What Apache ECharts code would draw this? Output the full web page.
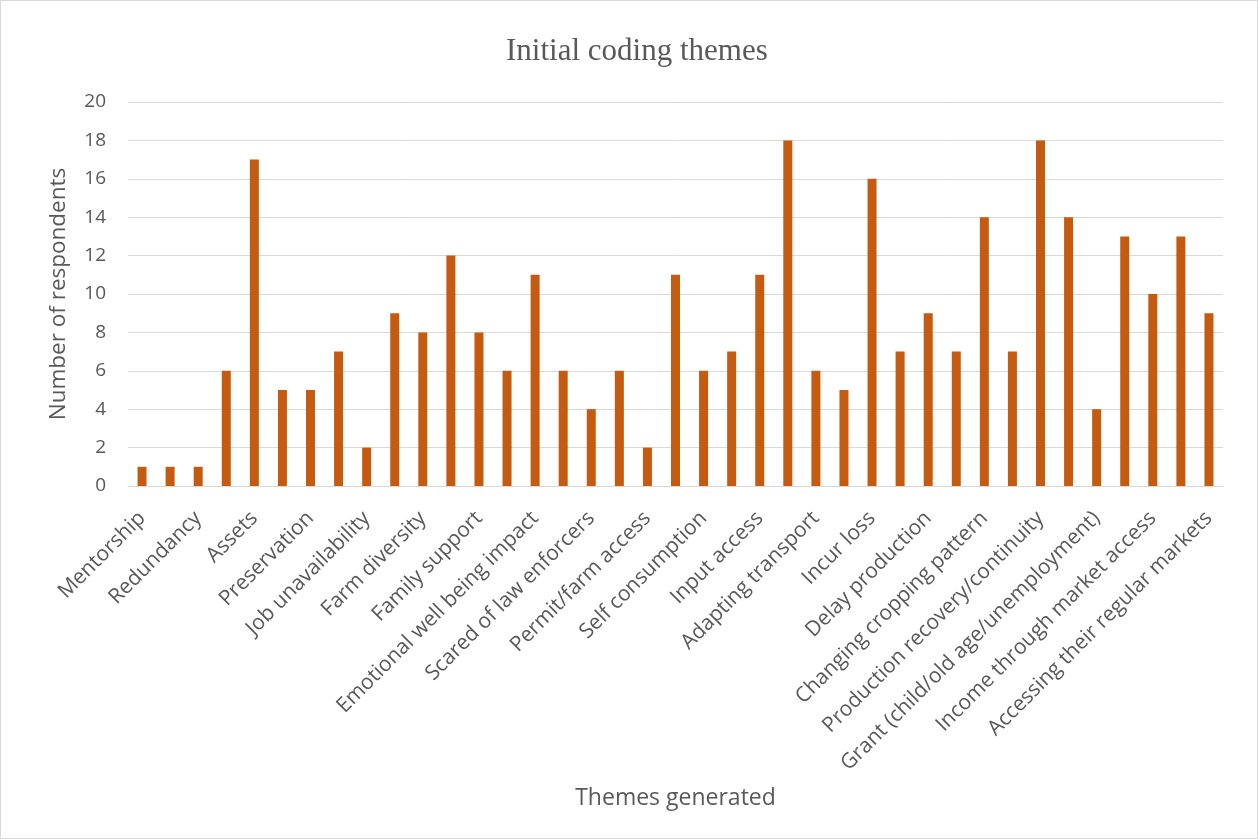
<!DOCTYPE html>
<html>
<head>
<meta charset="utf-8">
<title>Initial coding themes</title>
<script src="https://cdn.jsdelivr.net/npm/echarts@6/dist/echarts.min.js"></script>
<style>
  html, body { margin: 0; padding: 0; background: #fff; }
  #chart { width: 1258px; height: 839px; box-sizing: border-box; border: 1px solid #d9d9d9; }
</style>
</head>
<body>
<div id="chart"></div>
<script>
// only every second theme gets a label on the axis in the original
const themes = [
  'Mentorship', '', 'Redundancy', '', 'Assets', '', 'Preservation', '',
  'Job unavailability', '', 'Farm diversity', '', 'Family support', '',
  'Emotional well being impact', '', 'Scared of law enforcers', '',
  'Permit/farm access', '', 'Self consumption', '', 'Input access', '',
  'Adapting transport', '', 'Incur loss', '', 'Delay production', '',
  'Changing cropping pattern', '', 'Production recovery/continuity', '',
  'Grant (child/old age/unemployment)', '', 'Income through market access', '',
  'Accessing their regular markets'
];
const respondents = [
  1, 1, 1, 6, 17, 5, 5, 7, 2, 9, 8, 12, 8, 6, 11, 6, 4, 6, 2, 11,
  6, 7, 11, 18, 6, 5, 16, 7, 9, 7, 14, 7, 18, 14, 4, 13, 10, 13, 9
];
const yMin = 0, yMax = 20, yStep = 2;

const textGray = '#595959';
const chart = echarts.init(document.getElementById('chart'));
chart.setOption({
  animation: false,
  title: {
    text: 'Initial coding themes',
    left: 500,
    top: 30,
    textStyle: { fontFamily: 'Liberation Serif', fontWeight: 'normal', fontSize: 31, color: textGray }
  },
  grid: { left: 127, right: 34, top: 101, bottom: 352, containLabel: false },
  xAxis: {
    type: 'category',
    data: themes,
    name: 'Themes generated',
    nameLocation: 'middle',
    nameGap: 301,
    nameTextStyle: { fontFamily: 'Open Sans', fontSize: 23, color: textGray, verticalAlign: 'top' },
    axisLine: { lineStyle: { color: '#d9d9d9', width: 1 } },
    axisTick: { show: false },
    axisLabel: {
      interval: 1,
      rotate: 45,
      margin: 29,
      fontFamily: 'Open Sans',
      fontSize: 21,
      color: textGray
    }
  },
  yAxis: {
    type: 'value',
    min: yMin,
    max: yMax,
    interval: yStep,
    name: 'Number of respondents',
    nameLocation: 'middle',
    nameRotate: 90,
    nameGap: 58,
    nameTextStyle: { fontFamily: 'Open Sans', fontSize: 22.5, color: textGray },
    axisLine: { show: false },
    axisTick: { show: false },
    splitLine: { lineStyle: { color: '#d9d9d9', width: 1 } },
    axisLabel: { margin: 22, fontFamily: 'Open Sans', fontSize: 19, color: textGray }
  },
  series: [{
    type: 'bar',
    data: respondents,
    barWidth: 9,
    itemStyle: { color: '#c55a11' }
  }]
});
</script>
</body>
</html>
